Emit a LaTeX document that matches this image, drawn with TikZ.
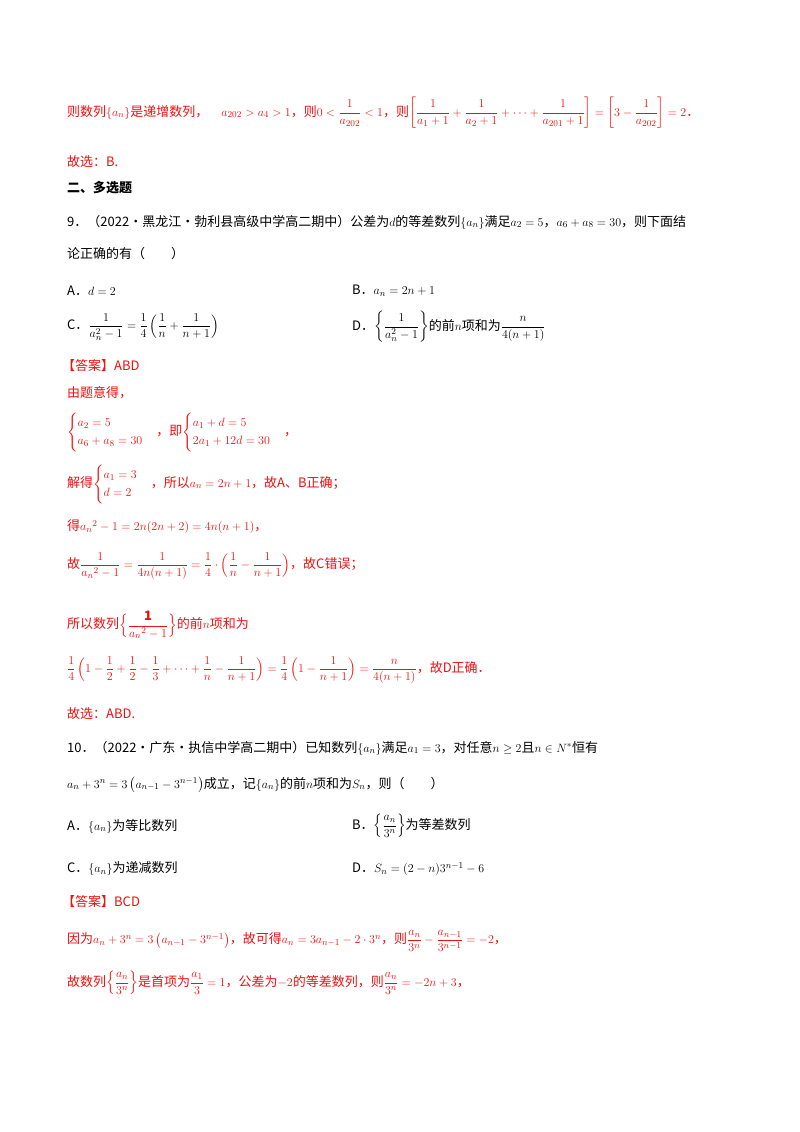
\documentclass[tikz,border=0pt]{standalone}
\usepackage{amsmath,amssymb}
\usepackage{fontspec}
\setmainfont{Noto Sans CJK SC}
\definecolor{ans}{HTML}{F01010}
\begin{document}
\begin{tikzpicture}[x=1pt,y=-1pt,
 t/.style={anchor=west,inner sep=0pt,font=\fontsize{13}{15}\selectfont},
 r/.style={t,text=ans}]
\useasboundingbox (0,0) rectangle (800,1132);
\fill[white] (0,0) rectangle (800,1132);
\node[r] (l1) at (67,113) {则数列$\{a_n\}$是递增数列，\quad $a_{202}>a_4>1$，则$0<\dfrac{1}{a_{202}}<1$，则$\left[\dfrac{1}{a_1+1}+\dfrac{1}{a_2+1}+\cdots+\dfrac{1}{a_{201}+1}\right]=\left[3-\dfrac{1}{a_{202}}\right]=2$．};
\node[r] (l2) at (67,162) {故选：B.};
\node[t,font=\fontsize{13}{15}\selectfont\bfseries] (l3) at (67,188) {二、多选题};
\node[t] (q9) at (67,222) {9．（2022·黑龙江·勃利县高级中学高二期中）公差为$d$的等差数列$\{a_n\}$满足$a_2=5$，$a_6+a_8=30$，则下面结};
\node[t] (q9b) at (67,254) {论正确的有（\qquad）};
\node[t] (oA) at (67,291) {A．$d=2$};
\node[t] (oB) at (352,291) {B．$a_n=2n+1$};
\node[t] (oC) at (67,327) {C．$\dfrac{1}{a_n^2-1}=\dfrac14\left(\dfrac1n+\dfrac1{n+1}\right)$};
\node[t] (oD) at (352,327) {D．$\left\{\dfrac{1}{a_n^2-1}\right\}$的前$n$项和为$\dfrac{n}{4(n+1)}$};
\node[r] (a9) at (62,366) {【答案】ABD};
\node[r] (s1) at (67,393) {由题意得，};
\node[r] (s2) at (67,432) {$\begin{cases}a_2=5\\ a_6+a_8=30\end{cases}$，即$\begin{cases}a_1+d=5\\ 2a_1+12d=30\end{cases}$，};
\node[r] (s3) at (67,484) {解得$\begin{cases}a_1=3\\ d=2\end{cases}$，所以$a_n=2n+1$，故A、B正确；};
\node[r] (s4) at (67,527) {得$a_n{}^2-1=2n(2n+2)=4n(n+1)$，};
\node[r] (s5) at (67,566) {故$\dfrac{1}{a_n{}^2-1}=\dfrac{1}{4n(n+1)}=\dfrac14\cdot\left(\dfrac1n-\dfrac1{n+1}\right)$，故C错误；};
\node[r] (s6) at (67,625) {所以数列$\Bigl\{\dfrac{\mathbf 1}{a_n{}^2-1}\Bigr\}$的前$n$项和为};
\node[r] (s7) at (67,670) {$\dfrac14\left(1-\dfrac12+\dfrac12-\dfrac13+\cdots+\dfrac1n-\dfrac1{n+1}\right)=\dfrac14\left(1-\dfrac1{n+1}\right)=\dfrac{n}{4(n+1)}$，故D正确．};
\node[r] (s8) at (67,714) {故选：ABD.};
\node[t] (q10) at (67,748) {10．（2022·广东·执信中学高二期中）已知数列$\{a_n\}$满足$a_1=3$，对任意$n\ge2$且$n\in N^*$恒有};
\node[t] (q10b) at (67,785) {$a_n+3^n=3\left(a_{n-1}-3^{n-1}\right)$成立，记$\{a_n\}$的前$n$项和为$S_n$，则（\qquad）};
\node[t] (pA) at (67,826) {A．$\{a_n\}$为等比数列};
\node[t] (pB) at (352,826) {B．$\left\{\dfrac{a_n}{3^n}\right\}$为等差数列};
\node[t] (pC) at (67,869) {C．$\{a_n\}$为递减数列};
\node[t] (pD) at (352,869) {D．$S_n=(2-n)3^{n-1}-6$};
\node[r] (a10) at (62,902) {【答案】BCD};
\node[r] (u1) at (67,941) {因为$a_n+3^n=3\left(a_{n-1}-3^{n-1}\right)$，故可得$a_n=3a_{n-1}-2\cdot3^n$，则$\dfrac{a_n}{3^n}-\dfrac{a_{n-1}}{3^{n-1}}=-2$，};
\node[r] (u2) at (67,983) {故数列$\left\{\dfrac{a_n}{3^n}\right\}$是首项为$\dfrac{a_1}{3}=1$，公差为$-2$的等差数列，则$\dfrac{a_n}{3^n}=-2n+3$，};
\end{tikzpicture}
\end{document}
